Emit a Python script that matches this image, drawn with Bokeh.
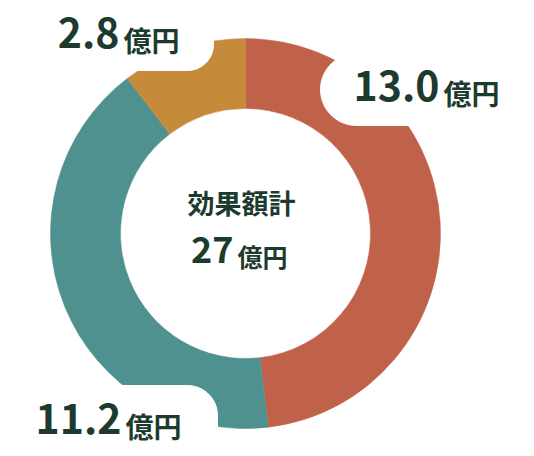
import numpy as np
from bokeh.plotting import figure
from bokeh.models import Range1d
from bokeh.core.properties import value
from bokeh.embed import file_html
from bokeh.resources import INLINE

# data
labels = ["13.0", "11.2", "2.8"]
values = [13.0, 11.2, 2.8]
colors = ["#C0624A", "#4E918F", "#C58A3A"]
unit = "億円"
center_title = "効果額計"
center_total = "27"

FONT = value("Noto Sans CJK JP")
TXT = "#1D3A2E"

# image coords: x = px, y = 456 - px
def Y(py):
    return 456 - py

# baseline fix for the CJK font (bokeh puts alphabetic lower)
def base(py, size):
    return Y(py - 0.43 * size)

cx, cy = 245, Y(233)
R_out, R_in = 195, 125

total = sum(values)
frac = np.cumsum([0] + values) / total
start = np.pi / 2 - frac[:-1] * 2 * np.pi
end = np.pi / 2 - frac[1:] * 2 * np.pi

p = figure(width=518, height=448, x_range=Range1d(0, 518), y_range=Range1d(8, 456),
           output_backend="svg", toolbar_location=None, min_border=0)
p.axis.visible = False
p.grid.visible = False
p.outline_line_color = None
p.background_fill_color = "white"
p.border_fill_color = "white"

p.annular_wedge(x=cx, y=cy, inner_radius=R_in, outer_radius=R_out,
                start_angle=start, end_angle=end, direction="clock",
                fill_color=colors, line_color=colors, line_width=0.5)


def rounded_box(x0, y0, x1, y1, r):
    # image coords box, r = (tl, tr, br, bl)
    pts = []
    corners = [(x0 + r[0], y0 + r[0], r[0], 180, 270),
               (x1 - r[1], y0 + r[1], r[1], 270, 360),
               (x1 - r[2], y1 - r[2], r[2], 0, 90),
               (x0 + r[3], y1 - r[3], r[3], 90, 180)]
    for ccx, ccy, rr, a0, a1 in corners:
        for a in np.linspace(np.radians(a0), np.radians(a1), 16):
            pts.append((ccx + rr * np.cos(a), ccy + rr * np.sin(a)))
    xs = [q[0] for q in pts]
    ys = [Y(q[1]) for q in pts]
    return xs, ys


boxes = [rounded_box(320, 53, 560, 125, (36, 0, 0, 36)),
         rounded_box(-40, -40, 213, 70, (0, 0, 26, 0)),
         rounded_box(-40, 385, 217, 500, (0, 30, 0, 0))]
p.patches([b[0] for b in boxes], [b[1] for b in boxes],
          fill_color="white", line_color="white")

# labels (13.0, 11.2, 2.8)
num_x = [439, 121, 119]
num_py = [103, 436, 50]
p.text(x=num_x, y=[base(v, 40) for v in num_py], text=labels, text_font=FONT,
       text_font_size="41px", text_font_style="bold", text_color=TXT,
       text_align="right", text_baseline="alphabetic")
p.text(x=[x + 4 for x in num_x], y=[base(v + 2, 28) for v in num_py],
       text=[unit] * 3, text_font=FONT, text_font_size="28px",
       text_font_style="bold", text_color=TXT, text_align="left",
       text_baseline="alphabetic")

# center
p.text(x=[241], y=[Y(202)], text=[center_title], text_font=FONT,
       text_font_size="27px", text_font_style="bold", text_color=TXT,
       text_align="center", text_baseline="middle")
p.text(x=[233], y=[base(264, 36)], text=[center_total], text_font=FONT,
       text_font_size="36px", text_font_style="bold", text_color=TXT,
       text_align="right", text_baseline="alphabetic")
p.text(x=[237], y=[base(266, 25)], text=[unit], text_font=FONT,
       text_font_size="25px", text_font_style="bold", text_color=TXT,
       text_align="left", text_baseline="alphabetic")

open("out.html", "w").write(file_html(p, INLINE))
